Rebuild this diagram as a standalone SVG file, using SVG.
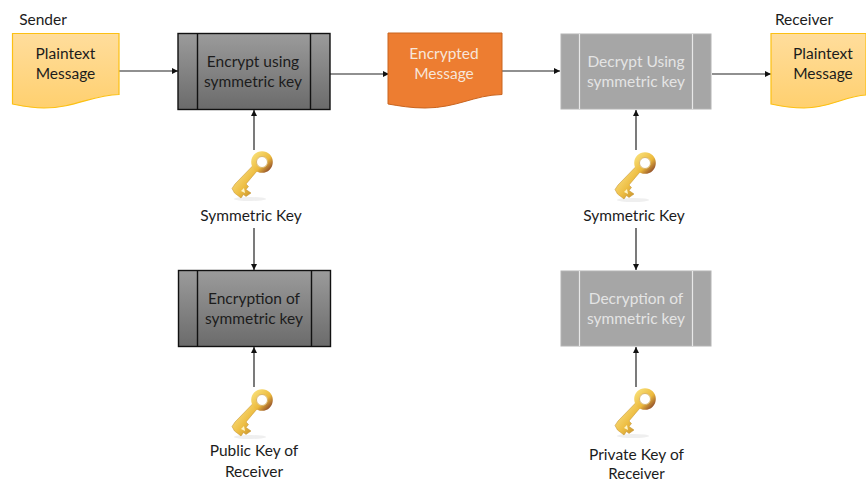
<svg xmlns="http://www.w3.org/2000/svg" xmlns:xlink="http://www.w3.org/1999/xlink" width="866" height="481" viewBox="0 0 866 481">
<style>
text{font-family:Lato,"Liberation Sans",sans-serif;font-size:15.5px;text-anchor:middle;fill:#1c1c1c}
.w{fill:#f7e6da}.l{fill:#e4e4e4}
.c{stroke:#222;stroke-width:1.2;fill:none;marker-end:url(#a)}
.doc{fill:url(#y);stroke:#fcc013;stroke-width:1.2}
.d{fill:url(#g);stroke:#111;stroke-width:1.4}
.p{fill:#a6a6a6;stroke:#b4b4b4;stroke-width:1}
.di{stroke:#111;stroke-width:1.4}.li{stroke:#e8e8e8;stroke-width:1.2}
</style>
<defs>
<marker id="a" markerWidth="7" markerHeight="6" refX="6" refY="3" orient="auto" markerUnits="userSpaceOnUse"><path d="M0 0L6 3L0 6z" fill="#111"/></marker>
<linearGradient id="y" x1="0" y1="0" x2="0" y2="1"><stop offset="0" stop-color="#ffdd9c"/><stop offset="1" stop-color="#ffd06f"/></linearGradient>
<linearGradient id="g" x1="0" y1="0" x2="0" y2="1"><stop offset="0" stop-color="#9b9b9b"/><stop offset="1" stop-color="#6b6b6b"/></linearGradient>
<linearGradient id="k" x1="0" y1="0" x2="1" y2="1"><stop offset="0" stop-color="#fdeb9a"/><stop offset=".55" stop-color="#eebf45"/><stop offset="1" stop-color="#b97f1e"/></linearGradient>
<linearGradient id="r" x1="0" y1="0" x2="1" y2="1"><stop offset="0" stop-color="#f8df78"/><stop offset=".6" stop-color="#ecb93c"/><stop offset="1" stop-color="#8d4a2a"/></linearGradient>
<g id="key">
<ellipse cx="-4" cy="25" rx="16" ry="2" fill="#efefef"/>
<path d="M-1.500 -8L-19 10L-22 14.500L-19.500 19L-13 24L-10.500 20.500L-8 22.500L-3 19L-8 15.500L-5.500 12.500L-8 10L3 -3z" fill="url(#k)" stroke="#c08f2c" stroke-width=".5"/>
<path d="M-10 14L-13 17L-9 19z" fill="#fff5c8"/>
<circle cx="8" cy="-12" r="8.300" fill="none" stroke="url(#r)" stroke-width="5"/>
<circle cx="8" cy="-12" r="5.500" fill="#fff" stroke="#c9962f" stroke-width=".7"/>
</g>
</defs>
<rect width="866" height="481" fill="#fff"/>
<g id="connectors">
<path class="c" d="M119 71H178"/>
<path class="c" d="M330 74H389"/>
<path class="c" d="M502 71H560"/>
<path class="c" d="M712 74H771"/>
<path class="c" d="M254 150V110"/>
<path class="c" d="M254 228V270"/>
<path class="c" d="M254 387V347"/>
<path class="c" d="M636 150V110"/>
<path class="c" d="M636 228V270"/>
<path class="c" d="M636 387V347"/>
</g>
<g id="sender"><text x="43" y="25">Sender</text></g>
<g id="receiver"><text x="804" y="25">Receiver</text></g>
<g id="plaintext1">
<path class="doc" d="M12.500 33.500H119V94.500C92 95 75 108 44 108C30 108 22 106 12.500 104z"/>
<text x="65.500" y="59">Plaintext</text><text x="65.500" y="79">Message</text>
</g>
<g id="encrypt">
<rect class="d" x="178" y="33.500" width="152" height="76"/>
<path class="di" d="M197.500 33.500V109.500M310.500 33.500V109.500"/>
<text x="253" y="67">Encrypt using</text><text x="253" y="87">symmetric key</text>
</g>
<g id="encrypted">
<path d="M388 33H502V94.500C474 95 457 108 425 108C411 108 400 106 388 104z" fill="#ed7d31" stroke="#c9641f" stroke-width="1"/>
<text class="w" x="444" y="59">Encrypted</text><text class="w" x="444" y="79">Message</text>
</g>
<g id="decrypt">
<rect class="p" x="561" y="34" width="150" height="75"/>
<path class="li" d="M579.500 34V109M692.500 34V109"/>
<text class="l" x="636" y="67">Decrypt Using</text><text class="l" x="636" y="87">symmetric key</text>
</g>
<g id="plaintext2">
<path class="doc" d="M771 33.500H866V95C845 96 830 108 804 108C790 108 780 106 771 104z"/>
<text x="823" y="59">Plaintext</text><text x="823" y="79">Message</text>
</g>
<g id="key1"><use xlink:href="#key" href="#key" x="254" y="174"/><text x="251" y="221">Symmetric Key</text></g>
<g id="key2"><use xlink:href="#key" href="#key" x="637" y="175"/><text x="634" y="221">Symmetric Key</text></g>
<g id="encryption">
<rect class="d" x="178.500" y="270.500" width="152" height="76"/>
<path class="di" d="M197.500 270.500V346.500M311.500 270.500V346.500"/>
<text x="254" y="304">Encryption of</text><text x="254" y="324">symmetric key</text>
</g>
<g id="decryption">
<rect class="p" x="561" y="271" width="150" height="75"/>
<path class="li" d="M579.500 271V346M692.500 271V346"/>
<text class="l" x="636" y="304">Decryption of</text><text class="l" x="636" y="324">symmetric key</text>
</g>
<g id="key3"><use xlink:href="#key" href="#key" x="254" y="412"/><text x="254" y="456">Public Key of</text><text x="254" y="477">Receiver</text></g>
<g id="key4"><use xlink:href="#key" href="#key" x="637" y="411"/><text x="636.500" y="460">Private Key of</text><text x="636.500" y="478.500" style="font-size:15px">Receiver</text></g>
</svg>
